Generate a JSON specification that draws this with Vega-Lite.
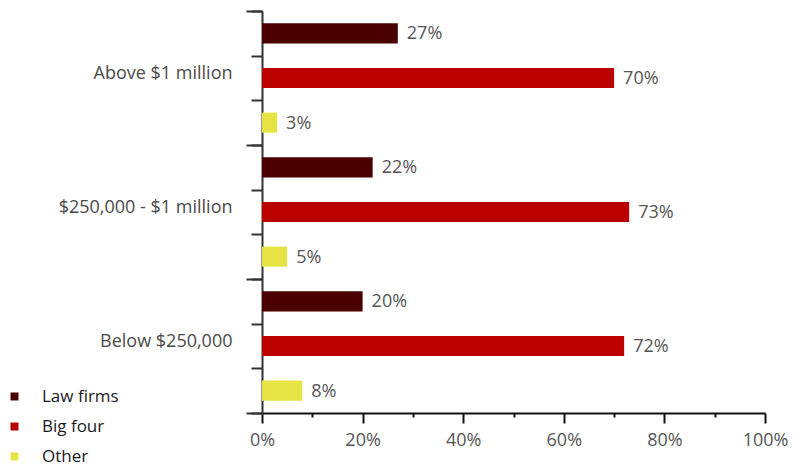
{
  "$schema": "https://vega.github.io/schema/vega-lite/v6.json",
  "autosize": {"type": "none"},
  "padding": {"left": 262, "top": 11, "right": 35, "bottom": 61},
  "width": 503,
  "height": 402,
  "background": "white",
  "config": {"view": {"stroke": null}, "font": "Open Sans"},
  "data": {"values": [
    {"key": "Above $1 million|Law firms", "category": "Above $1 million", "series": "Law firms", "share": 0.27},
    {"key": "Above $1 million|Big four", "category": "Above $1 million", "series": "Big four", "share": 0.70},
    {"key": "Above $1 million|Other", "category": "Above $1 million", "series": "Other", "share": 0.03},
    {"key": "$250,000 - $1 million|Law firms", "category": "$250,000 - $1 million", "series": "Law firms", "share": 0.22},
    {"key": "$250,000 - $1 million|Big four", "category": "$250,000 - $1 million", "series": "Big four", "share": 0.73},
    {"key": "$250,000 - $1 million|Other", "category": "$250,000 - $1 million", "series": "Other", "share": 0.05},
    {"key": "Below $250,000|Law firms", "category": "Below $250,000", "series": "Law firms", "share": 0.20},
    {"key": "Below $250,000|Big four", "category": "Below $250,000", "series": "Big four", "share": 0.72},
    {"key": "Below $250,000|Other", "category": "Below $250,000", "series": "Other", "share": 0.08}
  ]},
  "resolve": {"scale": {"y": "independent", "x": "independent"}, "axis": {"y": "independent", "x": "independent"}},
  "layer": [
    {
      "mark": {"type": "tick", "opacity": 0},
      "encoding": {
        "y": {
          "field": "category", "type": "nominal", "sort": null,
          "scale": {"paddingInner": 0, "paddingOuter": 0},
          "axis": {
            "orient": "left", "title": null, "tickBand": "extent",
            "domain": false, "labels": false,
            "tickColor": "#333333", "tickWidth": 2, "tickSize": 16
          }
        },
        "x": {
          "field": "share", "type": "quantitative",
          "scale": {"domain": [0, 1], "nice": false},
          "axis": {
            "orient": "bottom", "title": null, "grid": false,
            "values": [0.1, 0.3, 0.5, 0.7, 0.9],
            "domain": false, "labels": false,
            "tickColor": "#111111", "tickWidth": 2, "tickSize": 4
          }
        }
      }
    },
    {
      "encoding": {
        "y": {
          "field": "key", "type": "nominal", "sort": null,
          "scale": {"paddingInner": 0, "paddingOuter": 0},
          "axis": {
            "orient": "left", "title": null,
            "tickBand": "extent",
            "domainColor": "#333333", "domainWidth": 2,
            "tickColor": "#333333", "tickWidth": 2,
            "tickSize": 11,
            "labelExpr": "split(datum.value, '|')[1] == 'Big four' ? split(datum.value, '|')[0] : ''",
            "labelFont": "Open Sans", "labelFontSize": 18, "labelColor": "#4a4a4a",
            "labelPadding": 19, "labelOffset": -5, "labelLimit": 300
          }
        },
        "x": {
          "field": "share", "type": "quantitative",
          "scale": {"domain": [0, 1], "nice": false},
          "axis": {
            "orient": "bottom", "title": null, "grid": false,
            "values": [0, 0.2, 0.4, 0.6, 0.8, 1],
            "format": ".0%",
            "domainColor": "#111111", "domainWidth": 2,
            "tickColor": "#111111", "tickWidth": 2,
            "tickSize": 10,
            "labelFont": "Open Sans", "labelFontSize": 18, "labelColor": "#555555",
            "labelPadding": 8, "labelFlush": false
          }
        }
      },
      "layer": [
        {
          "mark": {"type": "bar", "height": {"band": 0.45}},
          "encoding": {
            "color": {
              "field": "series", "type": "nominal",
              "scale": {"domain": ["Law firms", "Big four", "Other"], "range": ["#4a0000", "#bb0000", "#e6e444"]},
              "legend": {
                "title": null, "orient": "none", "legendX": -256, "legendY": 377,
                "symbolType": "square", "symbolSize": 64, "symbolStrokeWidth": 0,
                "labelFont": "Open Sans", "labelFontSize": 17, "labelColor": "#1a1a1a",
                "labelOffset": 19, "rowPadding": 12, "padding": 0
              }
            }
          }
        },
        {
          "mark": {"type": "text", "align": "left", "baseline": "middle", "dx": 9, "dy": 1, "font": "Open Sans", "fontSize": 18, "color": "#555555"},
          "encoding": {
            "text": {"field": "share", "type": "quantitative", "format": ".0%"}
          }
        }
      ]
    }
  ]
}
